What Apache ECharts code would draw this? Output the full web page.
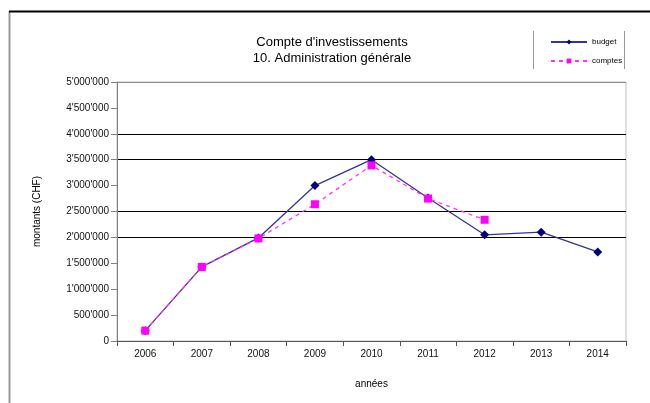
<!DOCTYPE html>
<html><head><meta charset="utf-8">
<script src="https://cdn.jsdelivr.net/npm/echarts@6/dist/echarts.min.js"></script>
<style>html,body{margin:0;padding:0;background:#fff}#c{width:650px;height:403px}</style>
</head><body><div id="c"></div>
<script>
const years = ['2006','2007','2008','2009','2010','2011','2012','2013','2014'];
const budget = [200000, 1430000, 1990000, 3000000, 3500000, 2760000, 2050000, 2100000, 1720000];
const comptes = [200000, 1430000, 1980000, 2640000, 3390000, 2750000, 2340000, null, null];
const gridValues = [2000000, 2500000, 3500000, 4000000];

function fmt(v){
  return String(v).replace(/\B(?=(\d{3})+(?!\d))/g, "'");
}
const splitColors = [];
for (let v = 0; v <= 5000000; v += 500000) {
  splitColors.push(v === 5000000 ? '#8a8a8a' : (gridValues.indexOf(v) >= 0 ? '#000000' : 'rgba(0,0,0,0)'));
}
const chart = echarts.init(document.getElementById('c'), null, {renderer:'canvas'});
const font = 'Liberation Sans, Arial, sans-serif';
chart.setOption({
  animation:false,
  textStyle:{fontFamily:font},
  title:{
    text:"Compte d'investissements\n10. Administration générale",
    left:327, top:29, textAlign:'center',
    textStyle:{fontSize:13, fontWeight:'normal', color:'#000', lineHeight:16, fontFamily:font}
  },
  legend:{
    orient:'vertical', left:545, top:33, itemWidth:36, itemHeight:6, itemGap:11,
    textStyle:{fontSize:8, color:'#000', fontFamily:font},
    data:['budget','comptes']
  },
  graphic:[
    {type:'line', shape:{x1:9.5,y1:11,x2:9.5,y2:403}, style:{stroke:'#999',lineWidth:2}},
    {type:'line', shape:{x1:9,y1:11.5,x2:650,y2:11.5}, style:{stroke:'#000',lineWidth:2}},
    {type:'line', shape:{x1:533.5,y1:31,x2:533.5,y2:69}, style:{stroke:'#999',lineWidth:1}},
    {type:'line', shape:{x1:624.5,y1:31,x2:624.5,y2:69}, style:{stroke:'#999',lineWidth:1}}
  ],
  grid:{left:117, right:24, top:82, bottom:62, show:true, borderColor:'#c0c0c0', borderWidth:1},
  xAxis:{
    type:'category', data:years, boundaryGap:true,
    name:'années', nameLocation:'middle', nameGap:38,
    nameTextStyle:{fontSize:10, color:'#000', fontFamily:font},
    axisLine:{lineStyle:{color:'#555', width:1}},
    axisTick:{show:true, inside:false, length:5, lineStyle:{color:'#555'}},
    axisLabel:{fontSize:10, color:'#111', margin:8, fontFamily:font},
    splitLine:{show:false}
  },
  yAxis:{
    type:'value', min:0, max:5000000, interval:500000,
    name:'montants (CHF)', nameLocation:'middle', nameGap:75, nameRotate:90,
    nameTextStyle:{fontSize:10, color:'#000', fontFamily:font},
    axisLine:{show:true, lineStyle:{color:'#808080', width:1}},
    axisTick:{show:true, inside:false, length:6, lineStyle:{color:'#808080'}},
    axisLabel:{fontSize:10, color:'#111', margin:8, formatter:fmt, fontFamily:font},
    splitLine:{show:true, showMinLine:true, showMaxLine:true, lineStyle:{color:splitColors, width:1}}
  },
  series:[
    {name:'budget', type:'line', data:budget, symbol:'diamond', symbolSize:9,
     lineStyle:{color:'#33339a', width:1.3}, itemStyle:{color:'#000080'}, z:3},
    {name:'comptes', type:'line', data:comptes, symbol:'rect', symbolSize:8,
     lineStyle:{color:'#ff33ff', width:1.3, type:[4,4]}, itemStyle:{color:'#ff00ff'}, z:4,
     connectNulls:false}
  ]
});
</script></body></html>
